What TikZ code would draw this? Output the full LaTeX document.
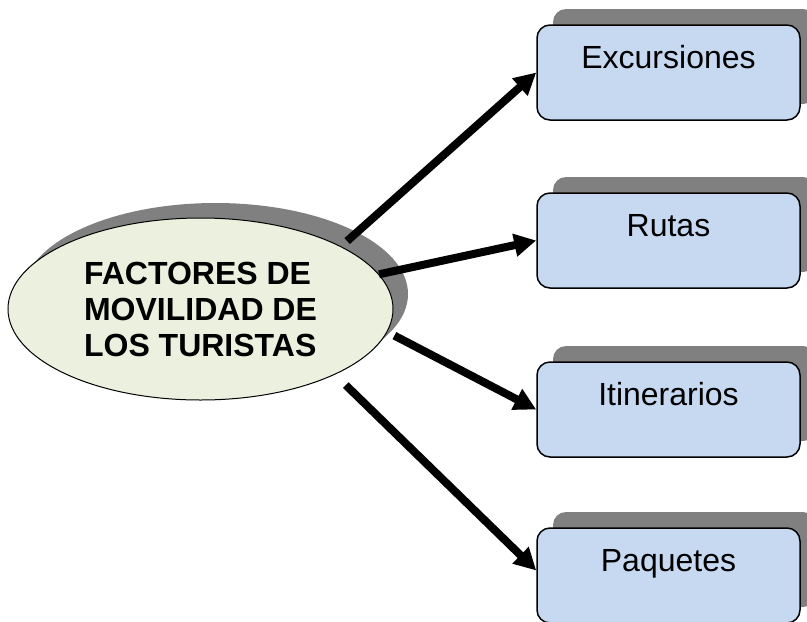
\documentclass[tikz,border=0pt]{standalone}
\usepackage{fontspec}
\setmainfont{Liberation Sans}
\usepackage{xcolor}
\usetikzlibrary{arrows.meta, shapes.geometric, shadows}

\definecolor{cajaazul}{HTML}{C6D9F1}
\definecolor{ovaloverde}{HTML}{EBF1DE}
\definecolor{sombragris}{HTML}{808080}

\begin{document}
\begin{tikzpicture}[x=1pt,y=-1pt,
        sombra/.style={drop shadow={shadow xshift=#1,shadow yshift=#1,fill=sombragris,opacity=1}},
        sombra/.default=16pt,
        caja/.style={draw,line width=1.5pt,rounded corners=13pt,fill=cajaazul,sombra,
            minimum width=263pt,minimum height=95pt,inner sep=0pt,
            text height=24pt,text depth=32pt,font=\fontsize{32}{36}\selectfont},
        flecha/.style={line width=8pt,-{Triangle[length=22pt,width=22pt]}}]
        \useasboundingbox (0,0) rectangle (807,622);

        \node[ellipse,draw,line width=1pt,fill=ovaloverde,sombra=15pt,
            minimum width=385pt,minimum height=182pt,inner sep=0pt,align=left,
            font=\bfseries\fontsize{32}{36}\selectfont] (fac) at (200.5,309)
            {FACTORES DE\\MOVILIDAD DE\\LOS TURISTAS};

        \node[caja] (exc) at (668.5,72.5) {Excursiones};
        \node[caja] (rut) at (668.5,240.5) {Rutas};
        \node[caja] (iti) at (668.5,409.5) {Itinerarios};
        \node[caja] (paq) at (668.5,575.5) {Paquetes};

        \draw[flecha,shorten <=8pt] (fac.24.7) -- (exc.west);
        \draw[flecha] (fac.11.8) -- (rut.west);
        \draw[flecha,shorten <=8pt] (fac.-7.5) -- (iti.west);
        \draw[flecha,shorten <=15pt] (fac.-26.1) -- ([yshift=5pt]paq.west);
    \end{tikzpicture}
\end{document}
